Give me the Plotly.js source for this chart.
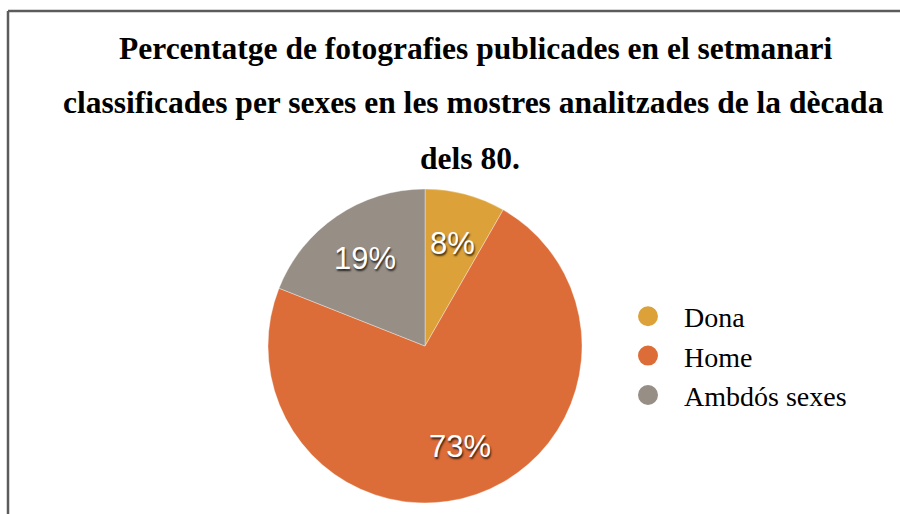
<!DOCTYPE html>
<html>
<head>
<meta charset="utf-8">
<script src="https://cdn.plot.ly/plotly-3.0.1.min.js"></script>
<style>html,body{margin:0;padding:0;background:#fff;}#chart{width:900px;height:514px;}</style>
</head>
<body>
<div id="chart"></div>
<script>
// ---- data ----
const categories = ["Dona", "Home", "Ambdós sexes"];
const values = [8.3, 72.7, 19.0];
const colors = ["#DCA239", "#DD6D38", "#978E85"];
const titleLines = [
  "Percentatge de fotografies publicades en el setmanari",
  "classificades per sexes en les mostres analitzades de la dècada",
  "dels 80."
];

// ---- layout geometry ----
const W = 900, H = 514;
const cx = 425, cy = 346, R = 157;

const pie = {
  type: "pie",
  labels: categories,
  values: values,
  sort: false,
  direction: "clockwise",
  rotation: 0,
  textinfo: "none",
  hoverinfo: "label+percent",
  showlegend: false,
  marker: { colors: colors, line: { color: "rgba(255,255,255,0.45)", width: 0.8 } },
  domain: { x: [(cx - R) / W, (cx + R) / W], y: [(H - cy - R) / H, (H - cy + R) / H] }
};

// dummy traces for circular legend markers
const legendTraces = categories.map((c, i) => ({
  type: "scatter", mode: "markers", x: [null], y: [null], name: c,
  marker: { color: colors[i], size: 16, symbol: "circle", line: { color: colors[i], width: 4 } },
  hoverinfo: "skip"
}));

// percentage labels placed at mid-angle of each slice
const total = values.reduce((a, b) => a + b, 0);
let cum = 0;
const annotations = [];
values.forEach((v, i) => {
  const mid = (cum + v / 2) / total * 2 * Math.PI;
  cum += v;
  const rr = R * 0.675;
  const px = cx + rr * Math.sin(mid);
  const py = cy - rr * Math.cos(mid);
  annotations.push({
    xref: "paper", yref: "paper", x: px / W, y: 1 - py / H,
    xanchor: "center", yanchor: "middle", showarrow: false,
    text: Math.round(v / total * 100) + "%",
    font: { family: "Liberation Sans, Arial, sans-serif", size: 31, color: "#ffffff",
            shadow: "1px 2px 2px rgba(0,0,0,0.75)" }
  });
});

// title lines
const titleY = [48, 103, 158];
const titleX = [476, 474, 470];
titleLines.forEach((t, i) => {
  annotations.push({
    xref: "paper", yref: "paper", x: titleX[i] / W, y: 1 - titleY[i] / H,
    xanchor: "center", yanchor: "middle", showarrow: false, text: "<b>" + t + "</b>",
    font: { family: "Liberation Serif, Times New Roman, serif", size: 31.5, color: "#000" }
  });
});

const layout = {
  width: W, height: H,
  margin: { l: 0, r: 0, t: 0, b: 0 },
  paper_bgcolor: "#fff", plot_bgcolor: "#fff",
  xaxis: { visible: false, domain: [0, 0.01] },
  yaxis: { visible: false, domain: [0, 0.01] },
  showlegend: true,
  legend: {
    x: 612 / W, xanchor: "left", y: 1 - 356 / H, yanchor: "middle",
    font: { family: "Liberation Serif, Times New Roman, serif", size: 28, color: "#000" },
    itemwidth: 62, bgcolor: "rgba(0,0,0,0)", tracegroupgap: 0
  },
  annotations: annotations,
  shapes: [
    { type: "line", xref: "paper", yref: "paper", x0: 8 / W, x1: 8 / W, y0: 0, y1: 1 - 11 / H,
      line: { color: "#5c5c5c", width: 2.5 } },
    { type: "line", xref: "paper", yref: "paper", x0: 8 / W, x1: 1, y0: 1 - 11 / H, y1: 1 - 11 / H,
      line: { color: "#5c5c5c", width: 2.5 } }
  ]
};

Plotly.newPlot("chart", [pie].concat(legendTraces), layout, { displayModeBar: false, staticPlot: true });
</script>
</body>
</html>
